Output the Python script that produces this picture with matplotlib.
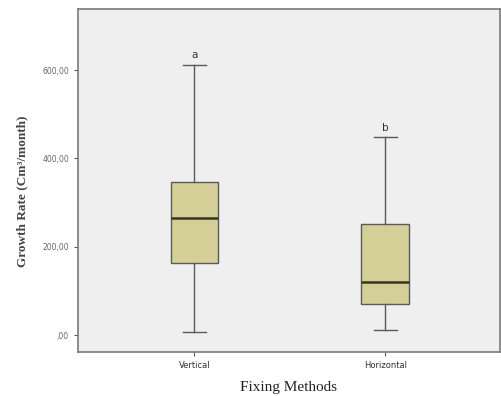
import numpy as np
import matplotlib.pyplot as plt

# box statistics
methods = ['Vertical', 'Horizontal']
whisker_low = [6, 11]
q1 = [162, 70]
median = [266, 120]
q3 = [347, 251]
whisker_high = [612, 448]
letters = ['a', 'b']
yticks = [0, 200, 400, 600]
ytick_labels = [',00', '200,00', '400,00', '600,00']

stats = []
for i in range(len(methods)):
    stats.append({'label': methods[i], 'whislo': whisker_low[i], 'q1': q1[i],
                  'med': median[i], 'q3': q3[i], 'whishi': whisker_high[i]})

fig = plt.figure(figsize=(5.01, 3.96), dpi=100)
ax = fig.add_axes([0.1557, 0.111, 0.842, 0.866])
ax.set_facecolor('#efefef')

edge = '#5a5a5a'
ax.bxp(stats, positions=[1, 2], widths=0.25, showfliers=False, patch_artist=True,
       boxprops=dict(facecolor='#d3cf97', edgecolor=edge, linewidth=1.0),
       medianprops=dict(color='#3b3420', linewidth=1.8),
       whiskerprops=dict(color=edge, linewidth=1.0),
       capprops=dict(color=edge, linewidth=1.0), capwidths=0.12)

for i, lt in enumerate(letters):
    ax.text(i + 1, whisker_high[i] + 10, lt, ha='center', va='bottom',
            fontsize=7.5, color='#333333')

ax.set_xlim(0.39, 2.6)
ax.set_ylim(-38.5, 738)
ax.set_yticks(yticks)
ax.set_yticklabels(ytick_labels, fontsize=5.5, color='#666666')
ax.set_xticks([1, 2])
ax.set_xticklabels(methods, fontsize=6, color='#333333')
ax.tick_params(axis='both', length=3, color=edge, width=0.8)

for s in ax.spines.values():
    s.set_color('#7a7a7a')
    s.set_linewidth(1.2)

ax.set_xlabel('Fixing Methods', family='Liberation Serif', fontsize=11, color='#222222', labelpad=8)
ax.set_ylabel('Growth Rate (Cm³/month)', family='Liberation Serif', fontsize=9.5,
              fontweight='bold', color='#444444', labelpad=10)
ax.yaxis.label.set_y(0.47)

fig.savefig('out.png', dpi=100)
